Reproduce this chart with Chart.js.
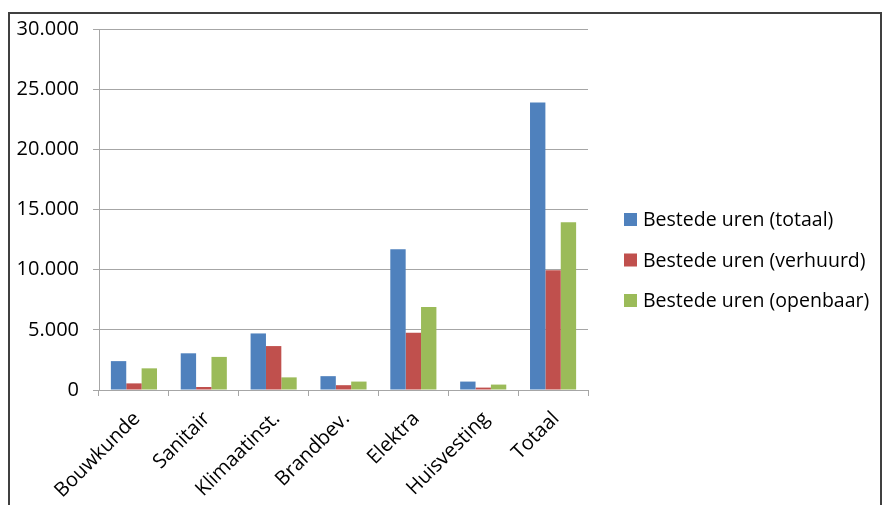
<!DOCTYPE html>
<html>
<head>
<meta charset="utf-8">
<script src="https://cdn.jsdelivr.net/npm/chart.js@4.4.1/dist/chart.umd.min.js"></script>
<style>
	body { margin: 0; background: #fff; }
	#wrap { position: relative; width: 885px; height: 505px; overflow: hidden; }
	#frame { position: absolute; left: 8px; top: 12px; width: 870px; height: 520px; border: 2px solid #404040; }
	#chart { position: absolute; left: 0; top: 0; }
</style>
</head>
<body>
<div id="wrap">
	<div id="frame"></div>
	<canvas id="chart" width="885" height="505"></canvas>
</div>
<script>
const categories = ['Bouwkunde', 'Sanitair', 'Klimaatinst.', 'Brandbev.', 'Elektra', 'Huisvesting', 'Totaal'];
const urenTotaal = [2400, 3050, 4700, 1150, 11700, 700, 23900];
const urenVerhuurd = [550, 250, 3650, 400, 4750, 200, 9950];
const urenOpenbaar = [1800, 2750, 1050, 700, 6900, 450, 13950];
const seriesLabels = ['Bestede uren (totaal)', 'Bestede uren (verhuurd)', 'Bestede uren (openbaar)'];
const seriesColors = ['#4F81BD', '#C0504D', '#9BBB59'];
const yMax = 30000;
const yStep = 5000;

const font = { family: '"Open Sans", sans-serif', size: 20 };
const legendFontSize = 19.5;
const gridColor = '#A6A6A6';

function formatNumber(v) {
	return String(v).replace(/\B(?=(\d{3})+(?!\d))/g, '.');
}

// legend drawn on the right like the Excel original
const sideLegend = {
	id: 'sideLegend',
	afterDraw(chart) {
		const ctx = chart.ctx;
		ctx.save();
		ctx.font = `${legendFontSize}px ${font.family}`;
		ctx.textBaseline = 'alphabetic';
		chart.data.datasets.forEach((ds, i) => {
			const y = 213 + i * 40.5;
			ctx.fillStyle = ds.backgroundColor;
			ctx.fillRect(624, y, 13, 13);
			ctx.fillStyle = '#000';
			ctx.fillText(ds.label, 643, y + 13);
		});
		ctx.restore();
	}
};

const seriesData = [urenTotaal, urenVerhuurd, urenOpenbaar];
const datasets = seriesData.map((d, i) => ({
	label: seriesLabels[i],
	backgroundColor: seriesColors[i],
	data: d,
	categoryPercentage: 0.66,
	barPercentage: 1.0
}));

new Chart(document.getElementById('chart'), {
	type: 'bar',
	data: {
		labels: categories,
		datasets
	},
	options: {
		responsive: false,
		animation: false,
		layout: {
			padding: { top: 29, left: 0, right: 297, bottom: 0 }
		},
		plugins: {
			legend: { display: false },
			tooltip: { enabled: false }
		},
		scales: {
			x: {
				afterFit(scale) { scale.height = 115; },
				grid: { drawOnChartArea: false, tickLength: 6, color: gridColor, offset: true },
				border: { color: gridColor },
				ticks: { color: '#000', font, minRotation: 45, maxRotation: 45, padding: 11, labelOffset: 3 }
			},
			y: {
				min: 0,
				max: yMax,
				afterFit(scale) { scale.width = 99; },
				grid: { color: gridColor, tickLength: 6 },
				border: { color: gridColor },
				ticks: { color: '#000', font, stepSize: yStep, padding: 14, callback: v => formatNumber(v) }
			}
		}
	},
	plugins: [sideLegend]
});
</script>
</body>
</html>
